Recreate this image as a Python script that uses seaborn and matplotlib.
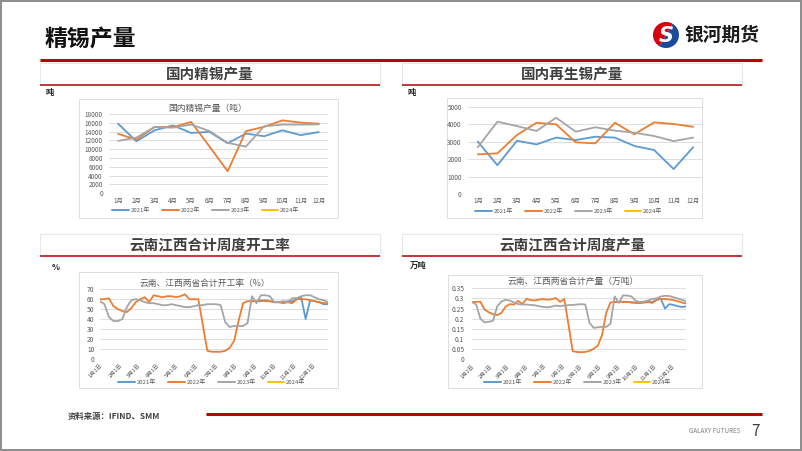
import numpy as np
import pandas as pd
import matplotlib
matplotlib.use("Agg")
import matplotlib.pyplot as plt
import seaborn as sns
from matplotlib.lines import Line2D
from matplotlib.legend import Legend
from matplotlib.patches import Rectangle, Wedge
from matplotlib.ticker import FuncFormatter

sns.set_theme(style="white")
plt.rcParams['font.family'] = ['Noto Sans CJK SC', 'DejaVu Sans']
plt.rcParams['axes.unicode_minus'] = False

# ---------------- data ----------------
years = ["2021年", "2022年", "2023年", "2024年"]
colors = ["#5B9BD5", "#ED7D31", "#A5A5A5", "#FFC000"]
months = ["1月", "2月", "3月", "4月", "5月", "6月", "7月", "8月", "9月", "10月", "11月", "12月"]

refined_2021 = [15800, 11800, 14300, 15400, 13700, 13950, 11350, 13550, 12950, 14300, 13200, 13900]
refined_2022 = [13500, 12200, 15050, 15000, 16200, 10650, 5000, 14100, 15100, 16550, 16050, 15800]
refined_2023 = [11900, 12650, 15050, 14900, 15600, 14150, 11450, 10600, 15200, 15600, 15600, 15650]

recycled_2021 = [3000, 1650, 3050, 2840, 3230, 3090, 3280, 3230, 2750, 2520, 1430, 2680]
recycled_2022 = [2270, 2330, 3380, 4080, 3990, 2960, 2900, 4080, 3420, 4100, 4010, 3850]
recycled_2023 = [2680, 4140, 3890, 3610, 4370, 3570, 3820, 3630, 3510, 3320, 3030, 3230]

month_start_days = [0, 31, 59, 90, 120, 151, 181, 212, 243, 273, 304, 334]
date_labels = ["1月1日", "2月1日", "3月1日", "4月1日", "5月1日", "6月1日",
               "7月1日", "8月1日", "9月1日", "10月1日", "11月1日", "12月1日"]
week_days = np.arange(52) * 7

rate_2021 = [None] * 34 + [58, 58, 58, 59, 58, 57, 57, 57, 58, 58, 60, 62,
                           40, 59, 58, 57, 55, 55]
rate_2022 = [60, 60, 61, 53, 50, 48, 47, 51, 57, 60, 62, 57, 64, 63, 62, 63, 63, 62,
             63, 65, 60, 60, 60, 34, 8, 7, 7, 7, 8, 11, 18, 38, 56, 58, 58, 58,
             59, 58, 58, 57, 57, 56, 57, 56, 60, 60, 60, 59, 58, 57, 56, 56]
rate_2023 = [58, 55, 42, 38, 38, 40, 52, 59, 60, 59, 57, 56, 56, 55, 54, 54, 55, 54,
             53, 52, 52, 53, 54, 54, 55, 55, 55, 54, 37, 32, 33, 33, 33, 36, 63, 56,
             64, 64, 63, 57, 57, 58, 57, 61, 61, 63, 64, 64, 62, 60, 59, 57]

output_2021 = [None] * 34 + [0.283, 0.283, 0.284, 0.283, 0.281, 0.279, 0.278, 0.281,
                             0.283, 0.282, 0.294, 0.298, 0.250, 0.272, 0.268, 0.262,
                             0.258, 0.260]
output_2022 = [0.282, 0.283, 0.284, 0.245, 0.232, 0.222, 0.218, 0.228, 0.260, 0.272,
               0.270, 0.288, 0.272, 0.298, 0.292, 0.290, 0.295, 0.296, 0.294, 0.296,
               0.302, 0.283, 0.297, 0.170, 0.040, 0.036, 0.035, 0.036, 0.042, 0.052,
               0.068, 0.120, 0.230, 0.280, 0.283, 0.283, 0.283, 0.283, 0.280, 0.278,
               0.277, 0.280, 0.282, 0.278, 0.293, 0.297, 0.297, 0.295, 0.292, 0.286,
               0.280, 0.275]
output_2023 = [0.282, 0.270, 0.200, 0.182, 0.185, 0.190, 0.260, 0.285, 0.293, 0.290,
               0.280, 0.272, 0.270, 0.270, 0.268, 0.266, 0.262, 0.258, 0.256, 0.260,
               0.265, 0.262, 0.265, 0.267, 0.268, 0.270, 0.272, 0.270, 0.180, 0.155,
               0.158, 0.160, 0.160, 0.175, 0.310, 0.278, 0.315, 0.314, 0.310, 0.288,
               0.282, 0.285, 0.290, 0.298, 0.300, 0.310, 0.313, 0.312, 0.306, 0.300,
               0.293, 0.287]

# ---------------- figure ----------------
W, H = 802, 451
fig = plt.figure(figsize=(W / 100, H / 100), dpi=100)
fig.patch.set_facecolor("white")


def px_axes(x0, y0, x1, y1):
    return fig.add_axes([x0 / W, 1 - y1 / H, (x1 - x0) / W, (y1 - y0) / H])


bg = px_axes(0, 0, W, H)
bg.set_xlim(0, W)
bg.set_ylim(H, 0)
bg.axis("off")

RED = "#C00000"
# outer frame
bg.add_patch(Rectangle((1, 1), W - 2, H - 2, fill=False, ec="#8C8C8C", lw=1.4))

# slide title
bg.text(45, 39, "精锡产量", fontsize=16.5, fontweight="bold", color="#111111",
        ha="left", va="center")
bg.plot([40, 762], [60, 60], color=RED, lw=2.2, solid_capstyle="butt")

# logo
bg.add_patch(Wedge((666, 35), 13, 120, 300, fc="#D7000F", ec="none"))
bg.add_patch(Wedge((666, 35), 13, 300, 480, fc="#1B4A9C", ec="none"))
bg.text(666, 35.5, "S", fontsize=15, fontweight="bold", color="white", ha="center",
        va="center", style="italic", family="DejaVu Sans")
bg.text(722, 35, "银河期货", fontsize=13.5, fontweight="bold", color="#1A1A1A",
        ha="center", va="center")

# section headers
def header(x0, x1, y0, y1, text):
    bg.add_patch(Rectangle((x0, y0), x1 - x0, y1 - y0, fc="white", ec="#E8E8E8", lw=0.8))
    bg.plot([x0, x1], [y1, y1], color="#C0282D", lw=1.3, solid_capstyle="butt")
    bg.text((x0 + x1) / 2, (y0 + y1) / 2 + 0.5, text, fontsize=10.5, fontweight="bold",
            color="#3F3F3F", ha="center", va="center")


header(40, 380, 63, 85, "国内精锡产量")
header(402, 742, 63, 85, "国内再生锡产量")
header(40, 380, 234, 256, "云南江西合计周度开工率")
header(402, 742, 234, 256, "云南江西合计周度产量")

# unit labels
bg.text(46, 93, "吨", fontsize=6, fontweight="bold", color="#262626", ha="left", va="center")
bg.text(407, 93, "吨", fontsize=6, fontweight="bold", color="#262626", ha="left", va="center")
bg.text(52, 267, "%", fontsize=6, fontweight="bold", color="#262626", ha="left", va="center")
bg.text(410, 265, "万吨", fontsize=6, fontweight="bold", color="#262626", ha="left", va="center")

# chart boxes
for (x0, y0, x1, y1) in [(79, 99, 338, 218), (447, 98, 702, 218),
                         (79, 272, 338, 388), (448, 275, 702, 388)]:
    bg.add_patch(Rectangle((x0, y0), x1 - x0, y1 - y0, fc="white", ec="#D9D9D9", lw=0.6))

# footer
bg.text(68, 416, "资料来源：IFIND、SMM", fontsize=6, fontweight="bold", color="#404040",
        ha="left", va="center")
bg.plot([206, 762], [414, 414], color=RED, lw=2.2, solid_capstyle="butt")
bg.text(740, 431, "GALAXY FUTURES", fontsize=4.5, color="#7F7F7F", ha="right", va="center")
bg.text(756, 431, "7", fontsize=11, color="#404040", ha="center", va="center")

TICK_C = "#595959"
GRID_C = "#D9D9D9"
pal = dict(zip(years, colors))


def style_axes(ax):
    ax.set_facecolor("none")
    for s in ax.spines.values():
        s.set_visible(False)
    ax.grid(axis="y", color=GRID_C, lw=0.6)
    ax.grid(axis="x", visible=False)
    ax.set_axisbelow(True)
    ax.set_xlabel("")
    ax.set_ylabel("")


def add_legend(cx, cy):
    handles = [Line2D([0], [0], color=c, lw=1.4) for c in colors]
    leg = Legend(bg, handles, years, loc="center", bbox_to_anchor=(cx, cy),
                 bbox_transform=bg.transData, ncol=4, frameon=False, fontsize=4.3,
                 handlelength=2.8, handletextpad=0.3, columnspacing=2.0,
                 labelcolor=TICK_C, borderpad=0)
    bg.add_artist(leg)


def monthly_chart(rect, series, ymax, ystep, pad_y, pad_x):
    ax = px_axes(*rect)
    df = pd.concat([pd.DataFrame({"m": range(12), "v": vals, "year": yr})
                    for yr, vals in series], ignore_index=True)
    sns.lineplot(data=df, x="m", y="v", hue="year", palette=pal, ax=ax,
                 legend=False, lw=1.3, sort=False)
    style_axes(ax)
    ax.set_xlim(-0.5, 11.5)
    ax.set_ylim(0, ymax)
    ax.set_yticks(range(0, ymax + 1, ystep))
    ax.set_xticks(range(12))
    ax.set_xticklabels(months)
    ax.tick_params(axis="y", length=0, labelsize=4.6, labelcolor=TICK_C, pad=pad_y)
    ax.tick_params(axis="x", length=0, labelsize=4.5, labelcolor=TICK_C, pad=pad_x)
    return ax


ax1 = monthly_chart((109, 114, 328, 193.3),
                    [("2021年", refined_2021), ("2022年", refined_2022), ("2023年", refined_2023)],
                    18000, 2000, 4.5, 2.5)
bg.text(208, 108, "国内精锡产量（吨）", fontsize=6.3, color=TICK_C, ha="center", va="center")
add_legend(206, 210.5)

ax2 = monthly_chart((468, 106.7, 703, 194),
                    [("2021年", recycled_2021), ("2022年", recycled_2022), ("2023年", recycled_2023)],
                    5000, 1000, 4.5, 2.0)
add_legend(569, 211)


def weekly_chart(rect, series, ymax, ystep, fmt, pad_y):
    ax = px_axes(*rect)
    df = pd.concat([pd.DataFrame({"d": week_days, "v": pd.array(vals, dtype="Float64").astype(float),
                                  "year": yr}) for yr, vals in series], ignore_index=True)
    sns.lineplot(data=df, x="d", y="v", hue="year", palette=pal, ax=ax,
                 legend=False, lw=1.3, sort=False)
    style_axes(ax)
    ax.set_xlim(0, 357)
    ax.set_ylim(0, ymax)
    ax.set_yticks(np.arange(0, ymax + ystep / 2, ystep))
    ax.yaxis.set_major_formatter(FuncFormatter(fmt))
    ax.set_xticks(month_start_days)
    ax.set_xticklabels(date_labels, rotation=45, ha="right", rotation_mode="anchor")
    ax.tick_params(axis="y", length=0, labelsize=4.8, labelcolor=TICK_C, pad=pad_y)
    ax.tick_params(axis="x", length=0, labelsize=4.0, labelcolor=TICK_C, pad=3)
    return ax


ax3 = weekly_chart((100, 289.3, 328, 358.7),
                   [("2021年", rate_2021), ("2022年", rate_2022), ("2023年", rate_2023)],
                   70, 10, lambda v, p: f"{v:g}", 4.0)
bg.text(205, 283, "云南、江西两省合计开工率（%）", fontsize=6.3, color=TICK_C,
        ha="center", va="center")
add_legend(212, 382)

ax4 = weekly_chart((472, 288.3, 686, 359.3),
                   [("2021年", output_2021), ("2022年", output_2022), ("2023年", output_2023)],
                   0.35, 0.05, lambda v, p: f"{round(v, 2):g}", 5.5)
bg.text(573, 281, "云南、江西两省合计产量（万吨）", fontsize=6.3, color=TICK_C,
        ha="center", va="center")
add_legend(578, 382)

fig.savefig("out.png", dpi=100, facecolor="white")
